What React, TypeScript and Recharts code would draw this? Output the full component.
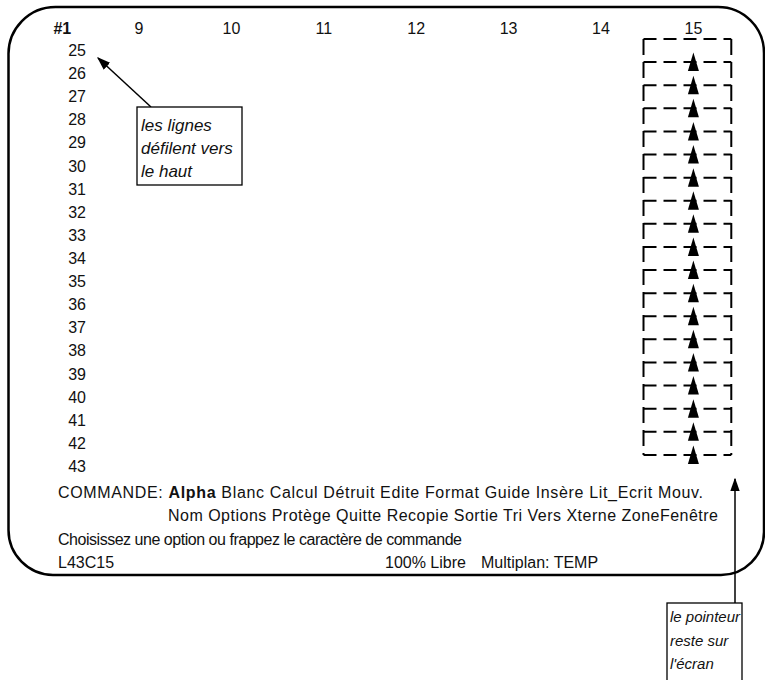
import React from 'react';
import { ScatterChart, Scatter, XAxis, YAxis, ReferenceLine } from 'recharts';

// column headers of the Multiplan window (#1 = row-number column)
const colTicks = [8.17, 9, 10, 11, 12, 13, 14, 15];
const colLabels = ['#1', '9', '10', '11', '12', '13', '14', '15'];

// visible rows after scrolling
const rowTicks = [25, 26, 27, 28, 29, 30, 31, 32, 33, 34, 35, 36, 37, 38, 39, 40, 41, 42, 43];

// pointer positions (between rows) in column 15
const pointerRows = [25.5, 26.5, 27.5, 28.5, 29.5, 30.5, 31.5, 32.5, 33.5, 34.5, 35.5, 36.5, 37.5, 38.5, 39.5, 40.5, 41.5, 42.5];
const cellBorders = [24.5, 25.5, 26.5, 27.5, 28.5, 29.5, 30.5, 31.5, 32.5, 33.5, 34.5, 35.5, 36.5, 37.5, 38.5, 39.5, 40.5, 41.5, 42.5];
const cellLeft = 14.46;
const cellRight = 15.41;

const menu1 = ['Blanc', 'Calcul', 'Détruit', 'Edite', 'Format', 'Guide', 'Insère', 'Lit_Ecrit', 'Mouv.'];
const menu2 = ['Nom', 'Options', 'Protège', 'Quitte', 'Recopie', 'Sortie', 'Tri', 'Vers', 'Xterne', 'ZoneFenêtre'];

const FONT = '"Liberation Sans", Arial, sans-serif';

const pointers = pointerRows.map(r => ({ col: 15, row: r }));

function ColTick(props: any) {
  const { x, payload } = props;
  const i = colTicks.indexOf(payload.value);
  return (
    <text x={x} y={34} textAnchor="middle" fontFamily={FONT} fontSize={16}
      fontWeight={i === 0 ? 'bold' : 'normal'} fill="#111">
      {colLabels[i]}
    </text>
  );
}

function RowTick(props: any) {
  const { y, payload } = props;
  return (
    <text x={86} y={y + 5.5} textAnchor="end" fontFamily={FONT} fontSize={16} fill="#111">
      {payload.value}
    </text>
  );
}

function Pointer(props: any) {
  const { cx, cy } = props;
  return (
    <path d={`M${cx} ${cy - 9.5} L${cx + 5.5} ${cy + 9} L${cx - 5.5} ${cy + 9} Z`} fill="#000" />
  );
}

function Overlay() {
  return (
    <svg width={765} height={680} style={{ position: 'absolute', left: 0, top: 0, pointerEvents: 'none' }}>
      <defs>
        <marker id="tip" viewBox="0 0 10 10" refX="9" refY="5" markerWidth="9" markerHeight="9" orient="auto">
          <path d="M0 1.5 L10 5 L0 8.5 Z" fill="#000" />
        </marker>
      </defs>
      {/* screen frame */}
      <path d="M8.5 55 A47 47 0 0 1 55.5 7 L718 7 A46 46 0 0 1 764 53 L764 532 A43 43 0 0 1 721 575 L53 575 A45 45 0 0 1 8.5 530 Z"
        fill="none" stroke="#000" strokeWidth={2.5} />

      <g fontFamily={FONT} fontSize={16} fill="#111">
        <text x={58} y={498} textLength={645} lengthAdjust="spacing">
          COMMANDE: <tspan fontWeight="bold">Alpha</tspan> {menu1.join(' ')}
        </text>
        <text x={168} y={521} textLength={550} lengthAdjust="spacing">{menu2.join(' ')}</text>
        <text x={58} y={545} textLength={404} lengthAdjust="spacing">Choisissez une option ou frappez le caractère de commande</text>
        <text x={58} y={568}>L43C15</text>
        <text x={385} y={568}>100% Libre</text>
        <text x={481} y={568}>Multiplan: TEMP</text>
      </g>

      {/* callout: rows scroll up */}
      <line x1={151} y1={107} x2={98} y2={58} stroke="#000" strokeWidth={1.5} markerEnd="url(#tip)" />
      <rect x={137} y={107} width={105} height={78} fill="#fff" stroke="#000" strokeWidth={1.3} />
      <g fontFamily={FONT} fontSize={17} fontStyle="italic" fill="#111">
        <text x={141} y={131}>les lignes</text>
        <text x={141} y={154}>défilent vers</text>
        <text x={141} y={177}>le haut</text>
      </g>

      {/* callout: pointer stays on screen */}
      <line x1={735} y1={603} x2={735} y2={479} stroke="#000" strokeWidth={1.5} markerEnd="url(#tip)" />
      <rect x={667} y={603} width={75} height={90} fill="#fff" stroke="#000" strokeWidth={1.3} />
      <g fontFamily={FONT} fontSize={15} fontStyle="italic" fill="#111">
        <text x={670} y={622}>le pointeur</text>
        <text x={670} y={646}>reste sur</text>
        <text x={670} y={669}>l'écran</text>
      </g>
    </svg>
  );
}

export default function App() {
  return (
    <div style={{ position: 'absolute', left: 0, top: 0, width: 765, height: 680, background: '#fff', fontFamily: FONT }}>
      <ScatterChart width={765} height={680} margin={{ top: 9, left: 6.6, right: 2.3, bottom: 202 }}>
        <XAxis type="number" dataKey="col" orientation="top" height={30} domain={[8, 15.75]}
          ticks={colTicks} interval={0} axisLine={false} tickLine={false} tick={ColTick} />
        <YAxis type="number" dataKey="row" width={40} domain={[24.5, 43.5]} reversed
          ticks={rowTicks} interval={0} axisLine={false} tickLine={false} tick={RowTick} />
        {cellBorders.map(b => (
          <ReferenceLine key={'h' + b} segment={[{ x: cellLeft, y: b }, { x: cellRight, y: b }]}
            stroke="#000" strokeWidth={2} strokeDasharray="13 7" />
        ))}
        <ReferenceLine segment={[{ x: cellLeft, y: 24.5 }, { x: cellLeft, y: 42.5 }]}
          stroke="#000" strokeWidth={2} strokeDasharray="16 7" />
        <ReferenceLine segment={[{ x: cellRight, y: 24.5 }, { x: cellRight, y: 42.5 }]}
          stroke="#000" strokeWidth={2} strokeDasharray="16 7" />
        <Scatter data={pointers} shape={Pointer} isAnimationActive={false} />
      </ScatterChart>
      <Overlay />
    </div>
  );
}
